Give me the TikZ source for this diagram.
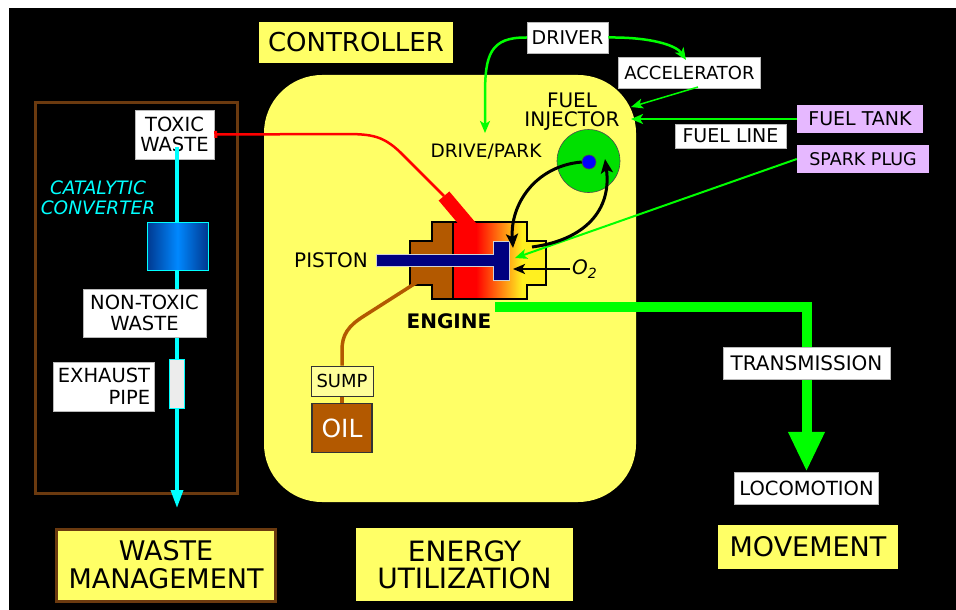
\documentclass[tikz,border=0pt]{standalone}
\usepackage{fontspec}
\setmainfont{DejaVu Sans}
\usetikzlibrary{arrows.meta}

\definecolor{padyellow}{HTML}{FFFF66}
\definecolor{framebrown}{HTML}{6B3A0F}
\definecolor{rust}{HTML}{B35900}
\definecolor{gline}{HTML}{00FF00}
\definecolor{injgreen}{HTML}{00E000}
\definecolor{lavender}{HTML}{E6B8FF}
\definecolor{aqua}{HTML}{00FFFF}
\definecolor{navyblue}{HTML}{000080}
\definecolor{sumpyellow}{HTML}{FFFF99}
\definecolor{hotyellow}{HTML}{FFF020}
\definecolor{convblue}{HTML}{0088FF}
\definecolor{convdark}{HTML}{00388F}

\newcommand\fsz[2]{\fontsize{#1}{#2}\selectfont}

\tikzset{
  tag/.style={fill=white, draw=gray!55, line width=0.5pt, inner sep=0pt, align=center, text=black},
  padtag/.style={fill=lavender, inner sep=0pt, align=center, text=black},
  title/.style={fill=padyellow, inner sep=0pt, align=center, text=black},
  plain/.style={inner sep=0pt, align=center, text=black},
  flow/.style={draw=gline, line width=2.5pt, -{Stealth[length=12pt,width=10pt,inset=3pt]}},
  cycleflow/.style={draw=black, line width=3pt, -{Stealth[length=14pt,width=12pt,inset=3pt]}},
}

\begin{document}
\begin{tikzpicture}[x=1pt,y=-1pt]
\useasboundingbox (0,0) rectangle (956,610);
\fill[white] (0,0) rectangle (956,610);
\fill[black] (9,8) rectangle (956,610);

% energy utilisation area
\fill[padyellow, rounded corners=58pt] (264,75) rectangle (636,502);

% waste management frame
\draw[framebrown, line width=3pt] (35,102) rectangle (237,493);

% ---------------- exhaust path ----------------
\node[tag, minimum width=79pt, minimum height=49pt, font=\fsz{19.5}{20}] (toxic) at (174.5,134.5) {TOXIC\\WASTE};
\coordinate (toxicdrain) at (177,147);
\coordinate (wasteout) at (177,508);
\draw[aqua, line width=3.5pt, -{Triangle[length=18pt,width=12pt]}] (toxicdrain) -- (wasteout);

\node[plain, text=aqua, font=\itshape\fsz{18.5}{19.5}] (catlabel) at (98,198) {CATALYTIC\\CONVERTER};
\node[draw=aqua, line width=1pt, minimum width=61pt, minimum height=48pt, inner sep=0pt,
      left color=convdark, right color=convdark, middle color=convblue] (converter) at (177.5,246) {};
\node[tag, minimum width=123pt, minimum height=48pt, font=\fsz{19.5}{21}] (nontoxic) at (144.5,313) {NON-TOXIC\\WASTE};
\node[tag, minimum width=101pt, minimum height=49pt, align=right, font=\fsz{19.5}{22}] (exhaust) at (104,386.5) {EXHAUST\\PIPE};
\node[draw=aqua, line width=1pt, fill=gray!15, minimum width=15pt, minimum height=49pt, inner sep=0pt] (pipe) at (177,384) {};

% ---------------- engine block ----------------
\coordinate (exhaustport) at (444,196);
\coordinate (sumpport) at (422,279);
\coordinate (driveshaft) at (495,307);
\coordinate (intake) at (513,248);
\coordinate (spill) at (532,247);
\coordinate (sparkin) at (515,258);

\begin{scope}
  \clip (410,241) -- (432,241) -- (432,222) -- (527,222) -- (527,241) -- (546,241)
        -- (546,285) -- (527,285) -- (527,299) -- (432,299) -- (432,285) -- (410,285) -- cycle;
  \fill[rust] (405,215) rectangle (453,305);
  \fill[red] (453,215) rectangle (476,305);
  \shade[left color=red, right color=hotyellow] (476,215) rectangle (522,305);
  \fill[hotyellow] (522,215) rectangle (550,305);
\end{scope}
\draw[line width=2.5pt, line join=miter]
  (410,241) -- (432,241) -- (432,222) -- (527,222) -- (527,241) -- (546,241)
  -- (546,285) -- (527,285) -- (527,299) -- (432,299) -- (432,285) -- (410,285) -- cycle;
\draw[line width=2pt] (453,222) -- (453,299);

% exhaust port and pipe to the toxic waste tag
\draw[red, line width=14pt] (exhaustport) -- (471,228);
\draw[red, line width=2.5pt, -{Rectangle[length=3pt,width=7pt]}]
  (exhaustport) -- (400,152) .. controls (383,136) and (372,134) .. (345,134) -- (toxic.east);

% piston
\draw[fill=navyblue, draw=gray!35, line width=0.8pt]
  (376,254) -- (493,254) -- (493,241) -- (509,241) -- (509,280) -- (493,280) -- (493,266) -- (376,266) -- cycle;
\node[plain, anchor=east, font=\fsz{20}{20}] (pistonlabel) at (368,260) {PISTON};
\node[plain, font=\bfseries\fsz{20}{20}] (engine) at (449,321) {ENGINE};

% oil sump
\node[fill=sumpyellow, draw=black!80, line width=1pt, minimum width=62pt, minimum height=30pt,
      inner sep=0pt, font=\fsz{18}{20}] (sump) at (342,381) {SUMP};
\node[fill=rust, draw=black!80, line width=1.2pt, minimum width=60pt, minimum height=49pt,
      inner sep=0pt, text=white, font=\fsz{25}{25}] (oil) at (342,428) {OIL};
\draw[rust, line width=3.5pt] (sumpport) -- (364,316) .. controls (348,326) and (342,335) .. (342,350) -- (sump.north);
\draw[rust, line width=3.5pt] (sump.south) -- (oil.north);

% ---------------- drive train ----------------
\node[tag, minimum width=144pt, minimum height=32pt, font=\fsz{19.5}{20}] (loco) at (806.5,488) {LOCOMOTION};
\draw[gline, line width=10pt, line join=miter, -{Triangle[length=40pt,width=34pt]}] (driveshaft) -| (loco.north);
\node[tag, minimum width=167pt, minimum height=32pt, font=\fsz{20}{20}] (transmission) at (806.5,363) {TRANSMISSION};

% ---------------- section titles ----------------
\node[title, minimum width=194pt, minimum height=41pt, font=\fsz{26}{28}] (controller) at (356,42.5) {CONTROLLER};
\node[title, minimum width=180pt, minimum height=44pt, font=\fsz{27}{28}] (movement) at (808,547) {MOVEMENT};
\node[title, minimum width=217pt, minimum height=73pt, font=\fsz{28}{27}] (energy) at (464.5,564.5) {ENERGY\\UTILIZATION};
\node[title, draw=framebrown, line width=3pt, minimum width=219pt, minimum height=72pt, font=\fsz{27}{28}] (waste) at (166,565) {WASTE\\MANAGEMENT};

% ---------------- controls and fuel ----------------
\node[tag, minimum width=81pt, minimum height=31pt, font=\fsz{19}{20}] (driver) at (567.5,37.5) {DRIVER};
\node[tag, minimum width=142pt, minimum height=31pt, font=\fsz{18}{20}] (accel) at (689.5,72.5) {ACCELERATOR};
\node[padtag, minimum width=126pt, minimum height=28pt, font=\fsz{19}{20}] (tank) at (860,119) {FUEL TANK};
\node[tag, minimum width=111pt, minimum height=24pt, font=\fsz{19}{20}] (fuelline) at (730.5,136) {FUEL LINE};
\node[padtag, minimum width=132pt, minimum height=28pt, font=\fsz{17.5}{20}] (spark) at (863,159) {SPARK PLUG};

\node[circle, fill=injgreen, draw=black!70, line width=0.6pt, minimum size=63pt, inner sep=0pt] (injector) at (588.5,161) {};
\node[circle, fill=blue, draw=black!70, line width=0.6pt, minimum size=14pt, inner sep=0pt] (nozzle) at (589,162) {};
\node[plain, font=\fsz{20}{19.5}] (injlabel) at (572,111.5) {FUEL\\INJECTOR};
\node[plain, font=\fsz{18.5}{20}] (drivepark) at (486,152) {DRIVE/PARK};

\coordinate (parkin) at (485,133);
\coordinate (accelin) at (686,60);
\coordinate (accelout) at (698,87);
\coordinate (throttle) at (631,107);
\coordinate (fuelport) at (631,119);

\draw[flow] (driver.west) .. controls (490,37) and (485,55) .. (485,95) -- (parkin);
\draw[flow] (driver.east) .. controls (650,37) and (676,45) .. (accelin);
\draw[flow, line width=1.5pt] (accelout) -- (throttle);
\draw[flow] (tank.west) -- (fuelport);
\draw[flow, line width=2pt] (spark.west) -- (sparkin);

% injection / return cycle
\draw[cycleflow] (nozzle.west) .. controls (535,166) and (510,205) .. (intake);
\draw[cycleflow] (spill) .. controls (585,240) and (612,210) .. (605,159);

% air intake
\node[plain, inner sep=2pt, anchor=west, font=\itshape\fsz{20}{20}] (oxygen) at (570,269) {O\textsubscript{2}};
\draw[black, line width=2.5pt, -{Stealth[length=12pt,width=10pt,inset=3pt]}] (oxygen.west) -- (513,269);
\end{tikzpicture}
\end{document}
